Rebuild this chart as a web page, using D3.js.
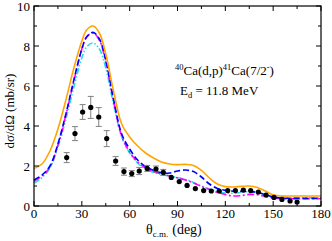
<!DOCTYPE html>
<html><head><meta charset="utf-8">
<script src="https://cdn.jsdelivr.net/npm/d3@7"></script>
<style>body{margin:0;background:#fff}svg{display:block}text{font-family:"Liberation Serif","Times New Roman",serif;fill:#000}</style>
</head><body><svg id="c" width="332" height="241"></svg>
<script>
const thetaGrid=[0,5,10,15,20,25,30,33,37,41,45,50,55,60,65,70,75,80,85,90,95,100,105,110,115,120,125,130,135,140,145,150,155,160,165,170,175,180];
const orange=[1.88,2.1,2.75,3.85,5.3,6.9,8.25,8.8,9.0,8.65,7.6,5.7,4.1,3.45,3.0,2.65,2.4,2.2,2.1,2.07,2.08,2.03,1.78,1.4,1.1,0.97,0.95,0.98,1.0,0.93,0.75,0.56,0.5,0.5,0.5,0.5,0.5,0.5];
const blue=[1.3,1.55,2.0,3.1,4.6,6.3,7.85,8.45,8.68,8.35,7.3,5.3,3.6,2.85,2.3,1.98,1.78,1.66,1.65,1.75,1.8,1.72,1.45,1.1,0.88,0.78,0.74,0.73,0.72,0.68,0.57,0.45,0.4,0.38,0.38,0.38,0.38,0.38];
const magenta=[1.25,1.5,1.95,3.05,4.55,6.25,7.85,8.45,8.65,8.3,7.2,5.2,3.5,2.7,2.2,1.9,1.72,1.6,1.5,1.4,1.3,1.15,0.98,0.82,0.68,0.57,0.5,0.52,0.58,0.56,0.48,0.4,0.37,0.36,0.36,0.36,0.36,0.36];
const cyan=[1.15,1.42,1.9,2.95,4.35,5.95,7.4,7.95,8.15,7.85,6.9,5.05,3.45,2.65,2.15,1.85,1.68,1.58,1.5,1.42,1.33,1.18,1.0,0.85,0.73,0.65,0.64,0.68,0.72,0.68,0.58,0.46,0.42,0.41,0.41,0.41,0.41,0.41];
const expTheta=[20.5,25.7,30.5,35.6,40.6,45.6,51.2,56.4,61.3,66,71,76.5,81.1,86.1,91.1,96,101.2,106.4,111.2,116.2,121.5,126.3,131.3,135.9,140.7,145.5,150.5,155.5,160.6,165];
const expVal=[2.42,3.62,4.7,4.93,4.45,3.37,2.25,1.72,1.62,1.75,1.88,1.85,1.68,1.43,1.22,1.03,0.87,0.77,0.75,0.75,0.77,0.77,0.8,0.77,0.7,0.55,0.43,0.33,0.25,0.2];
const expErr=[0.25,0.35,0.37,0.55,0.47,0.4,0.22,0.18,0.15,0.18,0.15,0.15,0.15,0,0,0,0,0,0,0,0,0,0,0,0,0,0,0,0,0];
const xTicks=[0,30,60,90,120,150,180];
const yTicks=[0,2,4,6,8,10];

const svg=d3.select("#c");
const L=34,R=321,T=6,B=206;
const x=d3.scaleLinear().domain([0,180]).range([L,R]);
const y=d3.scaleLinear().domain([0,10]).range([B,T]);

const series=[
 {v:cyan,c:"#20e0e0",d:"6,2,1.5,2,1.5,2"},
 {v:magenta,c:"#ff00ff",d:"7,2.5,2,2.5"},
 {v:blue,c:"#0000ff",d:"6,3"},
 {v:orange,c:"#ffa500",d:null}
];
const line=d3.line().x((d,i)=>x(thetaGrid[i])).y(d=>y(d)).curve(d3.curveCatmullRom.alpha(0.5));
series.forEach(s=>{
 svg.append("path").attr("d",line(s.v)).attr("fill","none").attr("stroke",s.c).attr("stroke-width",1.6).attr("stroke-dasharray",s.d);
});

const eb=svg.append("g").attr("stroke","#808080").attr("stroke-width",1);
expTheta.forEach((t,i)=>{
 const e=expErr[i]; if(!e) return;
 const cx=x(t);
 eb.append("line").attr("x1",cx).attr("x2",cx).attr("y1",y(expVal[i]-e)).attr("y2",y(expVal[i]+e));
 [expVal[i]-e,expVal[i]+e].forEach(v=>eb.append("line").attr("x1",cx-3).attr("x2",cx+3).attr("y1",y(v)).attr("y2",y(v)));
});
svg.append("g").selectAll("circle").data(expTheta).join("circle")
 .attr("cx",d=>x(d)).attr("cy",(d,i)=>y(expVal[i])).attr("r",2.6).attr("fill","#000");

const ax=svg.append("g").attr("stroke","#000").attr("stroke-width",1.2);
ax.append("rect").attr("x",L).attr("y",T).attr("width",R-L).attr("height",B-T).attr("fill","none");
const tk=svg.append("g").attr("stroke","#000").attr("stroke-width",1);
d3.range(0,181,15).forEach(v=>{
 const len=v%30===0?5:3;
 tk.append("line").attr("x1",x(v)).attr("x2",x(v)).attr("y1",B).attr("y2",B-len);
 tk.append("line").attr("x1",x(v)).attr("x2",x(v)).attr("y1",T).attr("y2",T+len);
});
d3.range(0,11,1).forEach(v=>{
 const len=v%2===0?5:3;
 tk.append("line").attr("y1",y(v)).attr("y2",y(v)).attr("x1",L).attr("x2",L+len);
 tk.append("line").attr("y1",y(v)).attr("y2",y(v)).attr("x1",R).attr("x2",R-len);
});
svg.append("g").selectAll("text").data(xTicks).join("text")
 .attr("x",d=>x(d)).attr("y",218).attr("text-anchor","middle").attr("font-size",13).text(d=>d);
svg.append("g").selectAll("text").data(yTicks).join("text")
 .attr("x",30).attr("y",d=>y(d)+4.5).attr("text-anchor","end").attr("font-size",13).text(d=>d);

svg.append("text").attr("transform","translate(14,111) rotate(-90)").attr("text-anchor","middle").attr("font-size",13).text("dσ/dΩ (mb/sr)");
const xt=svg.append("text").attr("x",146).attr("y",234).attr("font-size",14);
xt.append("tspan").text("θ");
xt.append("tspan").attr("font-size",9).attr("dy",3).text("c.m.");
xt.append("tspan").attr("font-size",14).attr("dy",-3).attr("dx",4).text("(deg)");

const a1=svg.append("text").attr("x",175).attr("y",75).attr("font-size",13);
a1.append("tspan").attr("font-size",8.5).attr("dy",-5).text("40");
a1.append("tspan").attr("dy",5).text("Ca(d,p)");
a1.append("tspan").attr("font-size",8.5).attr("dy",-5).text("41");
a1.append("tspan").attr("dy",5).text("Ca(7/2");
a1.append("tspan").attr("font-size",8.5).attr("dy",-5).text("-");
a1.append("tspan").attr("dy",5).text(")");
const a2=svg.append("text").attr("x",180).attr("y",95).attr("font-size",13);
a2.append("tspan").text("E");
a2.append("tspan").attr("font-size",8.5).attr("dy",3).text("d");
a2.append("tspan").attr("dy",-3).text(" = 11.8 MeV");
</script></body></html>
